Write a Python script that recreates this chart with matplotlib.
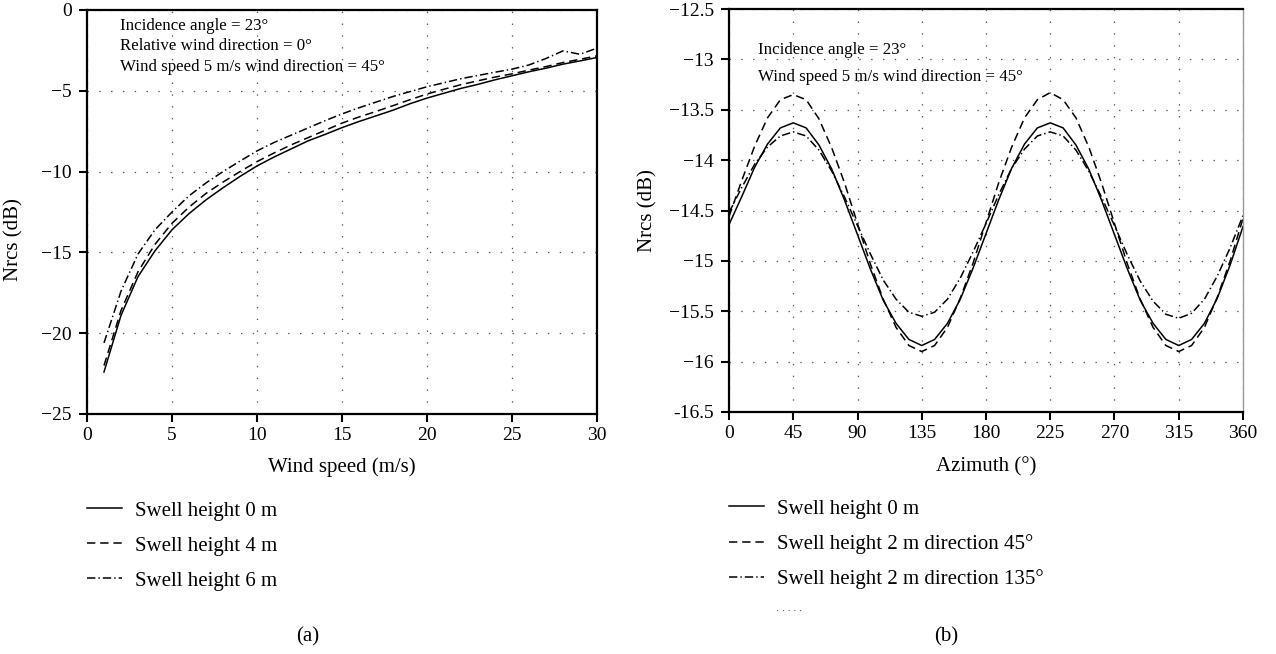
import matplotlib

matplotlib.use('Agg')
import matplotlib.pyplot as plt
from matplotlib.ticker import FuncFormatter, MultipleLocator

plt.rcParams['font.family'] = ['Liberation Serif', 'DejaVu Serif']
plt.rcParams['lines.scale_dashes'] = False

# (a) Nrcs vs wind speed
wind_speed = list(range(1, 31))
swell_0m = [-22.4, -18.9, -16.5, -14.9, -13.6, -12.6, -11.75, -11.0, -10.3, -9.65,
            -9.1, -8.6, -8.1, -7.7, -7.28, -6.9, -6.55, -6.2, -5.8, -5.45,
            -5.15, -4.85, -4.6, -4.32, -4.07, -3.82, -3.6, -3.35, -3.15, -2.94]
swell_4m = [-22.0, -18.6, -16.2, -14.5, -13.2, -12.2, -11.35, -10.65, -10.0, -9.38,
            -8.85, -8.35, -7.9, -7.45, -7.0, -6.62, -6.28, -5.92, -5.55, -5.2,
            -4.9, -4.62, -4.38, -4.15, -3.95, -3.72, -3.5, -3.25, -3.05, -2.84]
swell_6m = [-20.6, -17.4, -15.1, -13.6, -12.5, -11.5, -10.7, -10.0, -9.35, -8.72,
            -8.2, -7.75, -7.3, -6.85, -6.43, -6.05, -5.7, -5.35, -5.05, -4.75,
            -4.5, -4.25, -4.05, -3.85, -3.66, -3.4, -3.0, -2.53, -2.74, -2.36]
labels_a = ["Swell height 0 m", "Swell height 4 m", "Swell height 6 m"]

# (b) Nrcs vs azimuth
azimuth = list(range(0, 361, 9))
az_swell_0m = [-14.64, -14.36, -14.07, -13.84, -13.68, -13.63, -13.68, -13.85, -14.09, -14.40,
               -14.74, -15.08, -15.39, -15.62, -15.78, -15.84, -15.78, -15.62, -15.38, -15.07,
               -14.73, -14.39, -14.08, -13.84, -13.68, -13.63, -13.68, -13.85, -14.09, -14.40,
               -14.74, -15.08, -15.39, -15.62, -15.78, -15.84, -15.78, -15.62, -15.37, -15.04,
               -14.66]
az_swell_2m_45 = [-14.56, -14.20, -13.86, -13.58, -13.40, -13.35, -13.40, -13.59, -13.88, -14.23,
                  -14.63, -15.03, -15.38, -15.66, -15.84, -15.90, -15.84, -15.66, -15.37, -15.02,
                  -14.62, -14.22, -13.87, -13.58, -13.40, -13.33, -13.40, -13.58, -13.87, -14.23,
                  -14.63, -15.03, -15.38, -15.66, -15.84, -15.90, -15.84, -15.66, -15.36, -15.00,
                  -14.58]
az_swell_2m_135 = [-14.52, -14.27, -14.04, -13.87, -13.76, -13.72, -13.76, -13.90, -14.11, -14.37,
                   -14.65, -14.93, -15.19, -15.38, -15.51, -15.55, -15.51, -15.38, -15.17, -14.91,
                   -14.63, -14.34, -14.08, -13.89, -13.76, -13.72, -13.76, -13.90, -14.11, -14.37,
                   -14.65, -14.94, -15.20, -15.40, -15.53, -15.57, -15.52, -15.38, -15.15, -14.87,
                   -14.55]
labels_b = ["Swell height 0 m", "Swell height 2 m direction 45°", "Swell height 2 m direction 135°"]

W, H = 1276, 654
LINE_STYLES = ['-', (0, (6, 3.5)), (0, (6, 2.2, 1, 2.2))]
GRID = dict(color='#555555', linewidth=0.9, linestyle=(0, (1, 7.5)))


def fx(px):
    return px / W


def fy(py):
    return 1 - py / H


def style_axes(ax):
    for side in ['left', 'bottom', 'top', 'right']:
        ax.spines[side].set_linewidth(1.6)
        ax.spines[side].set_color('black')
    ax.tick_params(direction='out', length=5.5, width=1.5, labelsize=14, top=False, right=False)
    ax.tick_params(axis='x', pad=4)
    ax.tick_params(axis='y', pad=5.5)
    ax.grid(True, **GRID)
    ax.set_axisbelow(True)


def add_legend(ax, x_px, y_px):
    return ax.legend(loc='upper left', bbox_to_anchor=(fx(x_px), fy(y_px)),
                     bbox_transform=ax.figure.transFigure, frameon=False, fontsize=15,
                     handlelength=1.7, handletextpad=0.6, labelspacing=0.74,
                     borderpad=0, borderaxespad=0)


fig = plt.figure(figsize=(W / 100, H / 100), dpi=100)

# ---- panel (a)
ax1 = fig.add_axes([fx(87), fy(414), fx(510), 404 / H])
for vals, ls, lab in zip([swell_0m, swell_4m, swell_6m], LINE_STYLES, labels_a):
    ax1.plot(wind_speed, vals, color='black', linewidth=1.1, linestyle=ls, label=lab)
ax1.set_xlim(0, 30)
ax1.set_ylim(-25, 0)
ax1.xaxis.set_major_locator(MultipleLocator(5))
ax1.yaxis.set_major_locator(MultipleLocator(5))
style_axes(ax1)
ax1.set_xlabel("Wind speed (m/s)", fontsize=15)
ax1.set_ylabel("Nrcs (dB)", fontsize=15)
ax1.xaxis.set_label_coords(0.5, -(467 - 414) / 404)
ax1.xaxis.label.set_va('center')
ax1.yaxis.set_label_coords((14 - 87) / 510, 1 - (240 - 10) / 404)
ax1.yaxis.label.set_va('center')

for i, txt in enumerate(["Incidence angle = 23°", "Relative wind direction = 0°",
                         "Wind speed 5 m/s wind direction = 45°"]):
    fig.text(fx(120), fy(26 + 20.5 * i), txt, fontsize=12.2, va='center', ha='left')

add_legend(ax1, 87, 501)
fig.text(fx(308), fy(637), "(a)", fontsize=15, ha='center', va='center')

# ---- panel (b)
ax2 = fig.add_axes([fx(729), fy(412), fx(514), 403 / H])
for vals, ls, lab in zip([az_swell_0m, az_swell_2m_45, az_swell_2m_135], LINE_STYLES, labels_b):
    ax2.plot(azimuth, vals, color='black', linewidth=1.1, linestyle=ls, label=lab)
ax2.set_xlim(0, 360)
ax2.set_ylim(-16.5, -12.5)
ax2.xaxis.set_major_locator(MultipleLocator(45))
ax2.yaxis.set_major_locator(MultipleLocator(0.5))


def az_fmt(v, pos):
    s = f"{v:g}"
    if s == "-16.5":
        return s
    return s.replace('-', '\u2212')


ax2.yaxis.set_major_formatter(FuncFormatter(az_fmt))
style_axes(ax2)
ax2.spines['right'].set_color('#999999')
ax2.spines['right'].set_linewidth(1.0)
ax2.set_xlabel("Azimuth (°)", fontsize=15)
ax2.set_ylabel("Nrcs (dB)", fontsize=15)
ax2.xaxis.set_label_coords(0.5, -(467 - 412) / 403)
ax2.xaxis.label.set_va('center')
ax2.yaxis.set_label_coords((648 - 729) / 514, 0.5)
ax2.yaxis.label.set_va('center')

for i, txt in enumerate(["Incidence angle = 23°", "Wind speed 5 m/s wind direction = 45°"]):
    fig.text(fx(758), fy(50 + 27 * i), txt, fontsize=12.2, va='center', ha='left')

add_legend(ax2, 729, 499)
# leftover fourth legend row in the original: just a few dots
fig.text(fx(776), fy(612), "· · · · ·", fontsize=7, color='#444444', va='center', ha='left')
fig.text(fx(946), fy(637), "(b)", fontsize=15, ha='center', va='center')

fig.savefig("out.png", dpi=100)
